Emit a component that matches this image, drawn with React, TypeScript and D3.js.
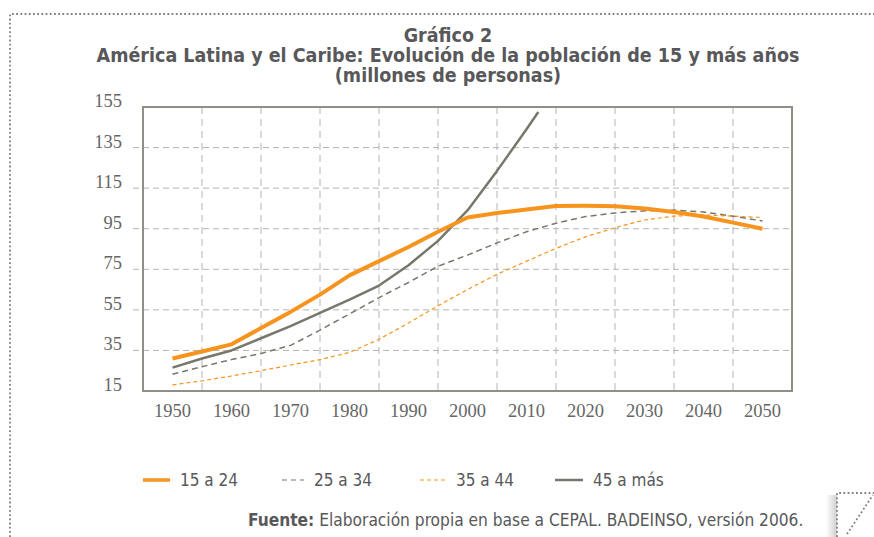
import React, { useEffect, useRef } from 'react';
import * as d3 from 'd3';

// años (cada 5) y millones de personas por grupo de edad
const years = [1950, 1955, 1960, 1965, 1970, 1975, 1980, 1985, 1990, 1995, 2000, 2005, 2010, 2015, 2020, 2025, 2030, 2035, 2040, 2045, 2050];
const age15to24 = [31, 34.5, 38, 46, 54, 62.5, 72, 79, 86, 93.5, 100.5, 102.7, 104.5, 106.2, 106.3, 106.1, 105, 103.2, 101, 98, 95];
const age25to34 = [23.3, 27, 30.5, 33.5, 37.5, 45, 53, 61, 68.5, 76.5, 82, 88, 93.5, 97.7, 101, 102.8, 103.8, 104.2, 103.2, 101.2, 98.8];
const age35to44 = [18, 20, 22.4, 25, 27.8, 30.5, 34, 40.5, 48.5, 57, 65, 72.5, 79, 85.3, 91, 95.5, 99.3, 101.2, 101.8, 101.2, 100.5];
const years45plus = [1950, 1955, 1960, 1965, 1970, 1975, 1980, 1985, 1990, 1995, 2000, 2005, 2010, 2012];
const age45plus = [26.5, 31, 35, 41, 47, 53.5, 60, 67, 77, 89, 104, 123.5, 144, 152.5];

const xTickLabels = ['1950', '1960', '1970', '1980', '1990', '2000', '2010', '2020', '2030', '2040', '2050'];
const yTickLabels = ['15', '35', '55', '75', '95', '115', '135', '155'];
const legendLabels = ['15 a 24', '25 a 34', '35 a 44', '45 a más'];

const ORANGE = '#f7941d';
const GREY = '#77776c';
const TEXT = '#58585a';
const TITLE_FONT = '"DejaVu Sans Condensed", "Liberation Sans", sans-serif';
const TICK_FONT = '"Liberation Serif", "DejaVu Serif", serif';

const App = () => {
    const chartRef = useRef(null);

    useEffect(() => {
        if (!chartRef.current) return;
        const svg = d3.select(chartRef.current);
        svg.selectAll('*').remove();

        const width = 874;
        const height = 537;
        const plot = { left: 143, right: 792, top: 107, bottom: 391 };

        const x = d3.scaleLinear().domain([1945, 2055]).range([plot.left, plot.right]);
        const y = d3.scaleLinear().domain([15, 155]).range([plot.bottom, plot.top]);

        // marco punteado exterior
        svg.append('path')
            .attr('d', `M10,${height} L10,14 L${width},14`)
            .attr('fill', 'none')
            .attr('stroke', '#808080')
            .attr('stroke-width', 1.8)
            .attr('stroke-dasharray', '1.8,2.4');

        // esquina inferior derecha
        const grad = svg.append('defs').append('linearGradient')
            .attr('id', 'shade').attr('x1', '0').attr('x2', '1');
        grad.append('stop').attr('offset', '0').attr('stop-color', '#fff');
        grad.append('stop').attr('offset', '1').attr('stop-color', '#cfcfcf');
        svg.append('rect')
            .attr('x', 826).attr('y', 495).attr('width', 11).attr('height', 42)
            .attr('fill', 'url(#shade)');
        svg.append('path')
            .attr('d', `M837,${height} L837,493 L${width},493`)
            .attr('fill', 'none')
            .attr('stroke', '#808080')
            .attr('stroke-width', 1.8)
            .attr('stroke-dasharray', '1.8,2.4');
        svg.append('path')
            .attr('d', 'M847,534 L873,495')
            .attr('fill', 'none')
            .attr('stroke', '#808080')
            .attr('stroke-width', 1.8)
            .attr('stroke-dasharray', '1.8,2.4');

        // título
        const titles = ['Gráfico 2', 'América Latina y el Caribe: Evolución de la población de 15 y más años', '(millones de personas)'];
        svg.append('g').selectAll('text')
            .data(titles)
            .enter()
            .append('text')
            .text(d => d)
            .attr('x', 448)
            .attr('y', (d, i) => 41.5 + i * 20)
            .attr('text-anchor', 'middle')
            .attr('fill', TEXT)
            .style('font-family', TITLE_FONT)
            .style('font-weight', 'bold')
            .style('font-size', '19.5px');

        // rejilla horizontal
        svg.append('g').selectAll('line')
            .data(yTickLabels.slice(1, -1))
            .enter()
            .append('line')
            .attr('x1', plot.left - 10)
            .attr('x2', plot.right)
            .attr('y1', d => y(+d))
            .attr('y2', d => y(+d))
            .attr('stroke', '#b4b4b4')
            .attr('stroke-width', 1)
            .attr('stroke-dasharray', '6,4');

        // rejilla vertical (entre décadas)
        svg.append('g').selectAll('line')
            .data(xTickLabels.slice(0, -1))
            .enter()
            .append('line')
            .attr('x1', d => x(+d + 5))
            .attr('x2', d => x(+d + 5))
            .attr('y1', plot.top)
            .attr('y2', plot.bottom)
            .attr('stroke', '#b4b4b4')
            .attr('stroke-width', 1)
            .attr('stroke-dasharray', '7,5');

        // marco del gráfico
        svg.append('rect')
            .attr('x', plot.left)
            .attr('y', plot.top)
            .attr('width', plot.right - plot.left)
            .attr('height', plot.bottom - plot.top)
            .attr('fill', 'none')
            .attr('stroke', '#8f8f86')
            .attr('stroke-width', 2);

        // etiquetas de ejes
        svg.append('g').selectAll('text')
            .data(yTickLabels)
            .enter()
            .append('text')
            .text(d => d)
            .attr('x', 122)
            .attr('y', d => y(+d))
            .attr('text-anchor', 'end')
            .attr('fill', '#666')
            .style('font-family', TICK_FONT)
            .style('font-size', '18.5px');

        svg.append('g').selectAll('text')
            .data(xTickLabels)
            .enter()
            .append('text')
            .text(d => d)
            .attr('x', d => x(+d))
            .attr('y', 417)
            .attr('text-anchor', 'middle')
            .attr('fill', '#666')
            .style('font-family', TICK_FONT)
            .style('font-size', '18.5px');

        // series
        const series = [
            { xs: years45plus, ys: age45plus, color: GREY, w: 2.5, dash: null },
            { xs: years, ys: age25to34, color: GREY, w: 1.5, dash: '6,4' },
            { xs: years, ys: age35to44, color: ORANGE, w: 1.2, dash: '4,3' },
            { xs: years, ys: age15to24, color: ORANGE, w: 4, dash: null },
        ];

        const lineGenerator = d3.line()
            .x(d => x(d[0]))
            .y(d => y(d[1]));

        series.forEach(s => {
            svg.append('path')
                .datum(s.xs.map((yr, i) => [yr, s.ys[i]]))
                .attr('fill', 'none')
                .attr('stroke', s.color)
                .attr('stroke-width', s.w)
                .attr('stroke-linejoin', 'round')
                .attr('stroke-dasharray', s.dash)
                .attr('d', lineGenerator);
        });

        // leyenda
        const legendStyles = [
            { color: ORANGE, w: 3.5, dash: null, x: 143, len: 27 },
            { color: GREY, w: 1.2, dash: '5,4', x: 282, len: 22 },
            { color: ORANGE, w: 1.2, dash: '4,3', x: 420, len: 26 },
            { color: GREY, w: 2.5, dash: null, x: 555, len: 28 },
        ];
        const legend = svg.append('g').selectAll('g')
            .data(legendLabels)
            .enter()
            .append('g');
        legend.append('line')
            .attr('x1', (d, i) => legendStyles[i].x)
            .attr('x2', (d, i) => legendStyles[i].x + legendStyles[i].len)
            .attr('y1', 480)
            .attr('y2', 480)
            .attr('stroke', (d, i) => legendStyles[i].color)
            .attr('stroke-width', (d, i) => legendStyles[i].w)
            .attr('stroke-dasharray', (d, i) => legendStyles[i].dash);
        legend.append('text')
            .text(d => d)
            .attr('x', (d, i) => legendStyles[i].x + legendStyles[i].len + 10)
            .attr('y', 486)
            .attr('fill', TEXT)
            .style('font-family', TITLE_FONT)
            .style('font-size', '17px');

        // fuente
        const note = svg.append('text')
            .attr('x', 248)
            .attr('y', 526)
            .attr('fill', TEXT)
            .style('font-family', TITLE_FONT)
            .style('font-size', '17.2px');
        note.append('tspan').style('font-weight', 'bold').text('Fuente:');
        note.append('tspan').text(' Elaboración propia en base a CEPAL. BADEINSO, versión 2006.');
    }, []);

    return (
        <svg ref={chartRef} width="874" height="537"
            style={{ position: 'absolute', left: 0, top: 0, background: '#fff' }}></svg>
    );
};

export default App;
